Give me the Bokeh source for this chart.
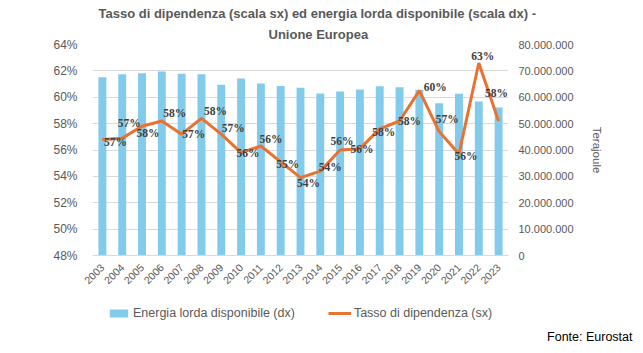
from bokeh.plotting import figure
from bokeh.layouts import column
from bokeh.models import (Range1d, LinearAxis, FixedTicker, ColumnDataSource, LabelSet,
                          Title, Legend, LegendItem, FactorRange, Label)
from bokeh.embed import file_html
from bokeh.resources import INLINE
import math

years = [str(y) for y in range(2003, 2024)]
energia = [67.6, 68.7, 69.1, 69.8, 68.9, 68.7, 64.7, 67.1, 65.2, 64.3, 63.6,
           61.4, 62.2, 62.9, 64.2, 63.8, 62.8, 57.7, 61.3, 58.4, 56.1]  # milioni di TJ
energia_tj = [v * 1e6 for v in energia]
dipendenza = [56.8, 56.9, 57.8, 58.2, 57.2, 58.4, 57.2, 55.8, 56.3, 55.1, 53.9,
              54.4, 56.0, 56.1, 57.6, 58.2, 60.5, 57.4, 55.7, 62.6, 58.2]
left_ticks = [48, 50, 52, 54, 56, 58, 60, 62, 64]
right_ticks = [0, 10e6, 20e6, 30e6, 40e6, 50e6, 60e6, 70e6, 80e6]
right_labels = ["0", "10.000.000", "20.000.000", "30.000.000", "40.000.000",
                "50.000.000", "60.000.000", "70.000.000", "80.000.000"]
title1 = "Tasso di dipendenza (scala sx) ed energia lorda disponibile (scala dx) -"
title2 = "Unione Europea"
name_bar = "Energia lorda disponibile (dx)"
name_line = "Tasso di dipendenza (sx)"
source_text = "Fonte: Eurostat"

# label placement offsets (px), style only
lab_dx = [13, 7, 6, 13, 12, 14, 12, 7, 10, 7, 8, 10, 2, 2, 4, 10, 16, 8, 7, 4, -2]
lab_dy = [-3, 15, -7, 8, 0, 7, 6, 0, 7, -2, -5, 4, 9, 0, -3, 0, 4, 13, -2, 7, 28]

FONT = "Liberation Sans"
GREY = "#595959"
BLUE = "#83CBEB"
ORANGE = "#E97132"

p = figure(width=643, height=290, x_range=FactorRange(*years), y_range=Range1d(48, 64),
           output_backend="svg", toolbar_location=None, title=None,
           min_border_left=92, min_border_right=135, min_border_top=44, min_border_bottom=35)
p.frame_align = False
p.extra_y_ranges = {"right": Range1d(0, 80e6)}
p.outline_line_color = None
p.background_fill_color = "white"

bars = p.vbar(x=years, top=energia_tj, width=0.4, y_range_name="right",
              fill_color=BLUE, line_color=None)
src = ColumnDataSource(dict(x=years, y=dipendenza,
                            t=[f"{round(v)}%" for v in dipendenza], dx=lab_dx, dy=lab_dy))
line = p.line("x", "y", source=src, line_color=ORANGE, line_width=3)

labels = LabelSet(x="x", y="y", text="t", source=src, x_offset="dx", y_offset="dy",
                  text_align="center", text_baseline="middle", text_font_size="11.5px",
                  text_font_style="bold", text_color="#404040", text_font=FONT)
p.add_layout(labels)

# axes
p.yaxis.ticker = FixedTicker(ticks=left_ticks)
p.yaxis.major_label_overrides = {t: f"{t}%" for t in left_ticks}
p.yaxis.axis_line_color = None
p.yaxis.major_tick_line_color = None
p.yaxis.minor_tick_line_color = None
p.yaxis.major_label_standoff = 9
p.yaxis.major_label_text_font_size = "12px"
p.yaxis.major_label_text_color = GREY
p.yaxis.major_label_text_font = FONT

ra = LinearAxis(y_range_name="right", ticker=FixedTicker(ticks=right_ticks),
                axis_label="Terajoule")
ra.major_label_overrides = {t: l for t, l in zip(right_ticks, right_labels)}
ra.axis_line_color = None
ra.major_tick_line_color = None
ra.minor_tick_line_color = None
ra.major_label_standoff = 4
ra.major_label_text_font_size = "11px"
ra.major_label_text_color = GREY
ra.major_label_text_font = FONT
ra.axis_label_text_font_style = "normal"
ra.axis_label_text_font_size = "11.5px"
ra.axis_label_text_color = GREY
ra.axis_label_text_font = FONT
ra.axis_label_standoff = 14
p.add_layout(ra, "right")

p.xaxis.major_label_orientation = math.pi / 4
p.xaxis.axis_line_color = "#d9d9d9"
p.xaxis.major_tick_line_color = None
p.xaxis.minor_tick_line_color = None
p.xaxis.major_label_text_font_size = "10.5px"
p.xaxis.major_label_text_color = GREY
p.xaxis.major_label_text_font = FONT
p.xaxis.major_label_standoff = 4

p.xgrid.grid_line_color = None
p.ygrid.grid_line_color = "#d9d9d9"

# titles (closest to the plot first)
p.add_layout(Title(text=title2, align="left", offset=176, standoff=6,
                   text_font_size="13px", text_font_style="bold", text_color=GREY,
                   text_font=FONT), "above")
p.add_layout(Title(text=title1, align="left", offset=6, standoff=1,
                   text_font_size="13px", text_font_style="bold", text_color=GREY,
                   text_font=FONT), "above")

# footer: legend + source (series sit outside the footer's visible range; only swatches show)
f = figure(width=643, height=63, x_range=FactorRange(*years), y_range=Range1d(-200, -100),
           output_backend="svg", toolbar_location=None, title=None,
           x_axis_location=None, y_axis_location=None,
           min_border_left=0, min_border_right=0, min_border_top=0, min_border_bottom=0)
f.frame_align = False
f.outline_line_color = None
f.xgrid.grid_line_color = None
f.ygrid.grid_line_color = None
fb = f.vbar(x=years, top=energia, width=0, fill_color=BLUE, line_color=None)
fl = f.line(x=years, y=dipendenza, line_color=ORANGE, line_width=3)
leg = Legend(items=[LegendItem(label=name_bar, renderers=[fb]),
                    LegendItem(label=name_line, renderers=[fl])],
             orientation="horizontal", location=(107, 33), padding=0, margin=0,
             spacing=33, glyph_width=23, glyph_height=10, label_standoff=3,
             label_height=14, label_text_font_size="12.5px", label_text_color=GREY,
             label_text_font=FONT, border_line_color=None, background_fill_alpha=0)
f.add_layout(leg)
f.add_layout(Label(x=632, y=17, x_units="screen", y_units="screen", text=source_text,
                   text_align="right", text_baseline="middle",
                   text_font_size="12.5px", text_color="black", text_font=FONT))

open("out.html", "w").write(file_html(column(p, f, spacing=0), INLINE))
